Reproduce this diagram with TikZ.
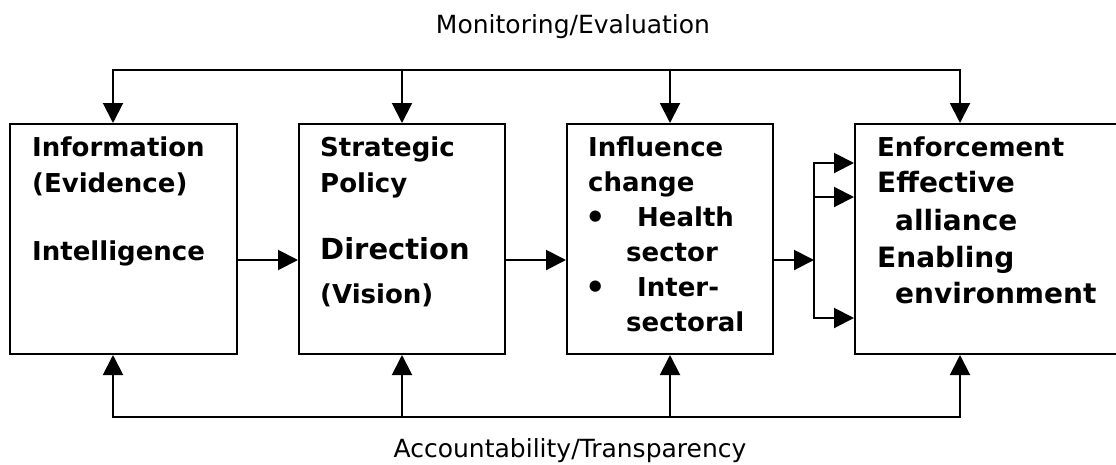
\documentclass[tikz,border=0pt]{standalone}
\usepackage{fontspec}
\setmainfont{DejaVu Sans}
\usetikzlibrary{arrows.meta}

\begin{document}
\begin{tikzpicture}[x=1pt,y=-1pt]
	\tikzstyle{every node}+=[inner sep=0pt]
	\tikzstyle{box}=[draw, rectangle, line width=2pt, minimum height=230pt]
	\tikzstyle{txt}=[anchor=base west, font=\bfseries\fontsize{26}{35}\selectfont]
	\tikzstyle{big}=[txt, font=\bfseries\fontsize{28}{37}\selectfont]
	\tikzstyle{bul}=[txt, font=\bfseries\fontsize{32}{35}\selectfont]
	\tikzstyle{lbl}=[anchor=base, font=\fontsize{25}{30}\selectfont]
	\tikzstyle{link}=[line width=2pt]
	\tikzstyle{arr}=[line width=2pt, -{Triangle[length=20pt,width=20pt]}]
	\useasboundingbox (0,0) rectangle (1116,464);
	% the four boxes
	\node[box, minimum width=227pt] (info) at (123.5,239) {};
	\node[box, minimum width=206pt] (policy) at (402,239) {};
	\node[box, minimum width=206pt] (change) at (670,239) {};
	\node[box, minimum width=275pt] (enforce) at (992.5,239) {};
	% box texts
	\node[txt] (info1) at (32,156) {Information};
	\node[txt] (info2) at (32,192) {(Evidence)};
	\node[txt] (info3) at (32,260) {Intelligence};
	\node[txt] (pol1) at (320,156) {Strategic};
	\node[txt] (pol2) at (320,192) {Policy};
	\node[txt, font=\bfseries\fontsize{29}{35}\selectfont] (pol3) at (320,259) {Direction};
	\node[txt] (pol4) at (320,303) {(Vision)};
	\node[txt] (chg1) at (588,156) {Influence};
	\node[txt] (chg2) at (588,191) {change};
	\node[bul] (dot1) at (585,228) {•};
	\node[txt] (chg3) at (637,226) {Health};
	\node[txt] (chg4) at (626,261) {sector};
	\node[bul] (dot2) at (585,298) {•};
	\node[txt] (chg5) at (637,296) {Inter-};
	\node[txt] (chg6) at (626,331) {sectoral};
	\node[txt] (enf1) at (877,156) {Enforcement};
	\node[big] (enf2) at (877,192) {Effective};
	\node[big] (enf3) at (895,230) {alliance};
	\node[big] (enf4) at (877,267) {Enabling};
	\node[big] (enf5) at (895,303) {environment};
	% loop labels
	\node[lbl] (mon) at (573,33) {Monitoring/Evaluation};
	\node[lbl] (acc) at (570,457) {Accountability/Transparency};
	% corner and branch points
	\coordinate (t1) at (113,70);
	\coordinate (t4) at (960,70);
	\coordinate (b1) at (113,417);
	\coordinate (b4) at (960,417);
	\coordinate (mid) at (0,260);
	\coordinate (fork) at (814,260);
	\coordinate (f1) at (814,163);
	\coordinate (f2) at (814,197);
	\coordinate (f3) at (814,318);
	% monitoring loop
	\draw[arr] (t4) -- (t1) -- (t1 |- info.north);
	\draw[arr] (t1) -- (t4) -- (t4 |- enforce.north);
	\draw[arr] (policy.north |- t1) -- (policy.north);
	\draw[arr] (change.north |- t1) -- (change.north);
	% main chain
	\draw[arr] (info.east |- mid) -- (policy.west |- mid);
	\draw[arr] (policy.east |- mid) -- (change.west |- mid);
	\draw[arr] (change.east |- mid) -- (fork);
	\draw[arr] (f3) -- (f1) -- (f1 -| enforce.west);
	\draw[arr] (f1) -- (f3) -- (f3 -| enforce.west);
	\draw[arr] (f2) -- (f2 -| enforce.west);
	% accountability loop
	\draw[arr] (b4) -- (b1) -- (b1 |- info.south);
	\draw[arr] (b1) -- (b4) -- (b4 |- enforce.south);
	\draw[arr] (policy.south |- b1) -- (policy.south);
	\draw[arr] (change.south |- b1) -- (change.south);
\end{tikzpicture}
\end{document}
